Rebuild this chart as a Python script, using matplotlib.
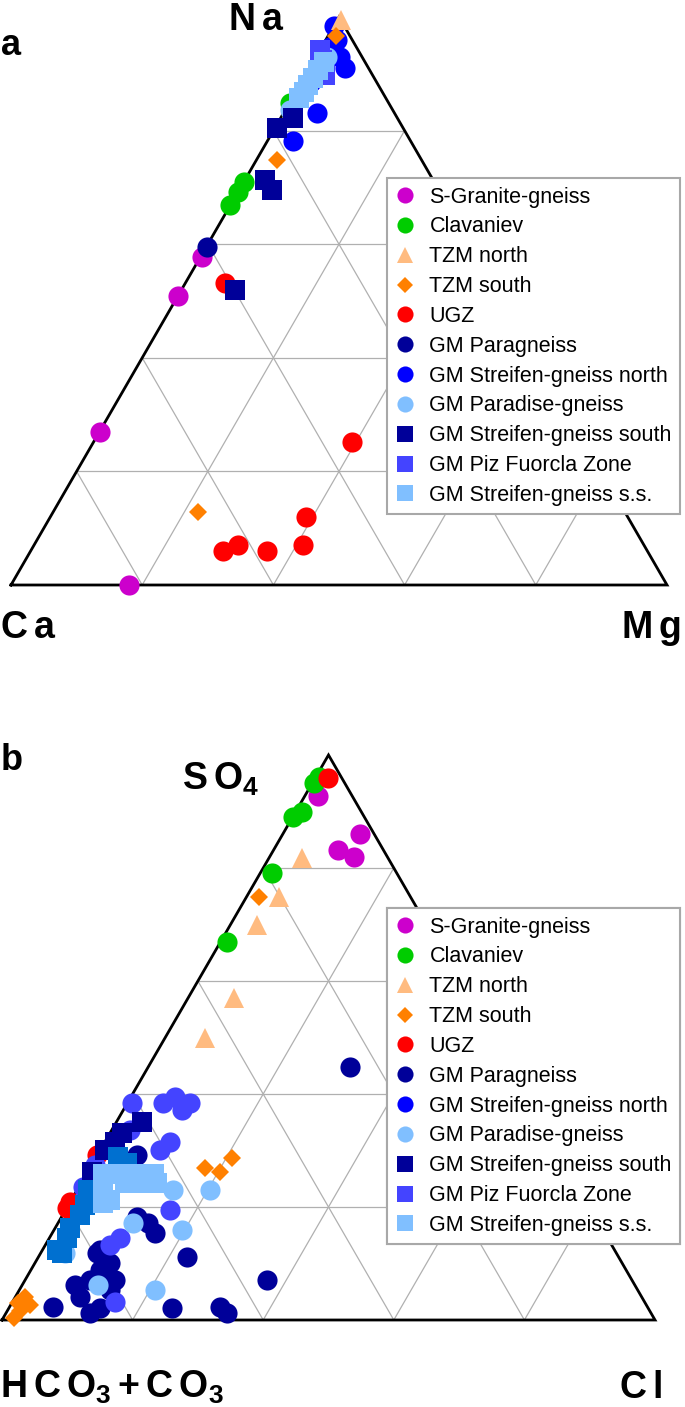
import numpy as np
import matplotlib
matplotlib.use('Agg')
import matplotlib.pyplot as plt
from matplotlib.lines import Line2D

plt.rcParams['font.family'] = ['Liberation Sans', 'DejaVu Sans']
plt.rcParams['mathtext.fontset'] = 'custom'
plt.rcParams['mathtext.rm'] = 'Liberation Sans'
plt.rcParams['mathtext.bf'] = 'Liberation Sans:bold'

# ---------------- data (percent of right / top corner) ----------------
# panel a: Mg %, Na %  (Ca = rest)
a_sgranite_mg = [0.2, 0.0, 0.0, 18.0]
a_sgranite_na = [57.8, 50.9, 27.0, 0.0]
a_clav_mg = [0.1, 0.0, 0.0, 0.0]
a_clav_na = [84.9, 71.0, 69.2, 66.9]
a_tzmn_mg = [0.5]
a_tzmn_na = [99.5]
a_tzms_mg = [1.2, 3.1, 22.1]
a_tzms_na = [96.7, 74.8, 12.9]
a_ugz_mg = [6.0, 39.4, 39.0, 41.0, 36.0, 31.1, 29.3]
a_ugz_na = [53.2, 25.2, 12.0, 7.0, 6.0, 7.0, 6.0]
a_para_mg = [0.1]
a_para_na = [59.5]
a_sgn_mg = [0.0, 1.7, 3.7, 5.4, 5.1, 3.9, 1.3, 1.4]
a_sgn_na = [98.5, 96.0, 93.0, 91.0, 83.1, 78.2, 94.7, 88.6]
a_parad_mg = [1.7, 0.7]
a_parad_na = [93.0, 83.6]
a_sgs_mg = [0.3, 1.9, 3.1, 5.0, 8.2]
a_sgs_na = [80.5, 82.2, 71.3, 69.5, 51.9]
a_piz_mg = [0.0, 1.2, 3.0, 2.0]
a_piz_na = [94.2, 92.4, 89.8, 91.2]
a_ss_mg = [1.6, 1.5, 1.4, 1.3, 1.2, 1.1]
a_ss_na = [92.1, 90.7, 89.3, 88.0, 86.8, 85.7]

# panel b: Cl %, SO4 %  (HCO3+CO3 = rest)
b_sgranite_cl = [2.0, 11.8, 9.9, 12.9]
b_sgranite_so4 = [92.7, 86.0, 83.2, 82.0]
b_clav_cl = [0.5, 0.3, 1.0, 0.0, 1.8, 1.0]
b_clav_so4 = [96.1, 95.0, 89.9, 89.0, 79.1, 66.9]
b_tzmn_cl = [5.1, 5.0, 4.1, 7.0, 6.1]
b_tzmn_so4 = [81.8, 74.9, 69.9, 57.0, 49.9]
b_tzms_cl = [1.9, 17.6, 20.3, 20.9, 1.5, 3.0, 0.9, 1.6, 1.9]
b_tzms_so4 = [74.9, 26.9, 26.2, 28.7, 4.1, 2.7, 3.0, 0.4, 1.6]
b_ugz_cl = [2.0, 0.0, 0.0, 0.1]
b_ugz_so4 = [95.9, 29.2, 20.9, 19.8]
b_para_cl = [30.9, 6.1, 11.6, 13.8, 15.7, 22.8, 37.0, 8.6, 11.5, 13.8, 13.9,
             10.6, 8.1, 9.9, 9.9, 6.7, 12.9, 14.0, 25.0, 32.2, 33.8, 8.8]
b_para_so4 = [44.8, 29.2, 18.2, 17.2, 15.4, 11.2, 7.1, 11.9, 10.1, 7.1, 5.3,
              8.8, 6.2, 4.1, 7.1, 2.3, 1.2, 2.1, 2.1, 2.3, 1.2, 12.4]
b_sgn_cl = [0.7, 5.5, 6.8, 9.0, 9.6, 10.0, 9.2, 2.8, 16.0, 10.8, 9.9, 15.7, 0.6, 0.5]
b_sgn_so4 = [38.4, 38.4, 39.5, 37.2, 38.4, 31.5, 30.1, 33.6, 19.5, 14.5, 13.3, 3.2, 23.5, 27.4]
b_parad_cl = [14.7, 20.4, 11.5, 19.6, 11.6, 20.8, 3.7]
b_parad_so4 = [23.0, 23.0, 17.2, 15.9, 6.2, 5.3, 11.9]
b_sgs_cl = [3.9, 1.8, 1.5, 0.7, 0.7]
b_sgs_so4 = [35.0, 33.1, 31.5, 30.1, 26.2]
b_piz_cl = [3.3, 5.3, 1.7, 2.5, 2.6, 2.3, 2.7, 2.2, 3.3]
b_piz_so4 = [28.8, 27.8, 23.0, 20.4, 18.6, 16.3, 14.5, 12.4, 11.9]
b_ss_cl = [2.5, 5.1, 7.7, 10.4, 11.6, 4.0, 5.9, 5.1, 6.7, 10.2, 8.2]
b_ss_so4 = [25.8, 25.8, 25.8, 25.8, 24.2, 23.0, 21.2, 20.7, 24.2, 24.2, 24.2]

groups = ['S-Granite-gneiss', 'Clavaniev', 'TZM north', 'TZM south', 'UGZ',
          'GM Paragneiss', 'GM Streifen-gneiss north', 'GM Paradise-gneiss',
          'GM Streifen-gneiss south', 'GM Piz Fuorcla Zone', 'GM Streifen-gneiss s.s.']

# ---------------- styles ----------------
styles = {
    'S-Granite-gneiss': ('o', '#cc00cc', 14.5),
    'Clavaniev': ('o', '#00cc00', 14.5),
    'TZM north': ('^', '#ffbb80', 14.5),
    'TZM south': ('D', '#ff8000', 9.5),
    'UGZ': ('o', '#ff0000', 14.5),
    'GM Paragneiss': ('o', '#000099', 14.5),
    'GM Streifen-gneiss north': ('o', '#0000ff', 14.5),
    'GM Paradise-gneiss': ('o', '#80bfff', 14.5),
    'GM Streifen-gneiss south': ('s', '#000099', 14.5),
    'GM Piz Fuorcla Zone': ('s', '#4444ff', 14.5),
    'GM Streifen-gneiss s.s.': ('s', '#80bfff', 14.5),
}

data_a = [(a_sgranite_mg, a_sgranite_na), (a_clav_mg, a_clav_na), (a_tzmn_mg, a_tzmn_na),
          (a_tzms_mg, a_tzms_na), (a_ugz_mg, a_ugz_na), (a_para_mg, a_para_na),
          (a_sgn_mg, a_sgn_na), (a_parad_mg, a_parad_na), (a_sgs_mg, a_sgs_na),
          (a_piz_mg, a_piz_na), (a_ss_mg, a_ss_na)]
data_b = [(b_sgranite_cl, b_sgranite_so4), (b_clav_cl, b_clav_so4), (b_tzmn_cl, b_tzmn_so4),
          (b_tzms_cl, b_tzms_so4), (b_ugz_cl, b_ugz_so4), (b_para_cl, b_para_so4),
          (b_sgn_cl, b_sgn_so4), (b_parad_cl, b_parad_so4), (b_sgs_cl, b_sgs_so4),
          (b_piz_cl, b_piz_so4), (b_ss_cl, b_ss_so4)]
# colours in panel b differ slightly for two groups
colors_b = {'GM Streifen-gneiss north': '#4444ff', 'GM Piz Fuorcla Zone': '#0070d0'}

# triangle corners in figure pixels: left, right, top
verts_a = np.array([(11, 585), (667, 585), (339, 17)])
verts_b = np.array([(2, 1320), (655, 1320), (328.5, 755)])


def tern(right, top, verts):
    r = np.asarray(right) / 100.0
    t = np.asarray(top) / 100.0
    l = 1 - r - t
    xy = np.outer(l, verts[0]) + np.outer(r, verts[1]) + np.outer(t, verts[2])
    return xy[:, 0], xy[:, 1]


fig = plt.figure(figsize=(6.85, 14.07), dpi=100)
ax = fig.add_axes([0, 0, 1, 1])
ax.set_xlim(0, 685)
ax.set_ylim(1407, 0)
ax.axis('off')


def draw_panel(verts, data, col_over, zo_tzm):
    # grid
    for k in range(1, 5):
        f = k * 20
        for (r0, t0, r1, t1) in [(0, f, 100 - f, f), (f, 0, f, 100 - f), (f, 0, 0, f)]:
            x, y = tern([r0, r1], [t0, t1], verts)
            ax.plot(x, y, color='#b0b0b0', lw=0.9, zorder=1)
    x, y = tern([0, 100, 0, 0], [0, 0, 100, 0], verts)
    ax.plot(x, y, color='black', lw=2.0, zorder=2, solid_joinstyle='miter')
    for i, g in enumerate(groups):
        m, c, ms = styles[g]
        c = col_over.get(g, c)
        x, y = tern(data[i][0], data[i][1], verts)
        zo = 3 + i * 0.1
        if g.startswith('TZM'):
            zo = zo_tzm
        ax.plot(x, y, ls='none', marker=m, color=c, ms=ms, mew=0, zorder=zo)


draw_panel(verts_a, data_a, {}, 5)
draw_panel(verts_b, data_b, colors_b, 3.25)

handles = []
for g in groups:
    m, c, ms = styles[g]
    handles.append(Line2D([], [], ls='none', marker=m, color=c, mew=0,
                          ms=ms * (0.8 if m != 'D' else 0.85), label=g))

for ytop in (178, 908):
    leg = ax.legend(handles=handles, loc='upper left', bbox_to_anchor=(387, ytop),
                    bbox_transform=ax.transData, fontsize=15.5, frameon=True,
                    fancybox=False, edgecolor='#a8a8a8', framealpha=1,
                    handlelength=0.85, handletextpad=0.72, labelspacing=0.41,
                    borderpad=0.4, borderaxespad=0)
    leg.get_frame().set_linewidth(1.5)
    leg.set_zorder(10)
    ax.add_artist(leg)

big = 27
ax.text(1, 55, 'a', fontsize=26, fontweight='bold', va='baseline')
ax.text(1, 770, 'b', fontsize=26, fontweight='bold', va='baseline')
ax.text(228, 30, r'$\mathbf{N\,a}$', va='baseline', fontsize=big)
ax.text(0, 638, r'$\mathbf{C\,a}$', va='baseline', fontsize=big)
ax.text(681, 638, r'$\mathbf{M\,g}$', va='baseline', ha='right', fontsize=big)
ax.text(182, 790, r'$\mathbf{S\,O_4}$', va='baseline', fontsize=big)
ax.text(0, 1398, r'$\mathbf{H\,C\,O_3\,{+}\,C\,O_3}$', va='baseline', fontsize=big)
ax.text(662, 1398, r'$\mathbf{C\,l}$', va='baseline', ha='right', fontsize=big)

fig.savefig('out.png', dpi=100)
